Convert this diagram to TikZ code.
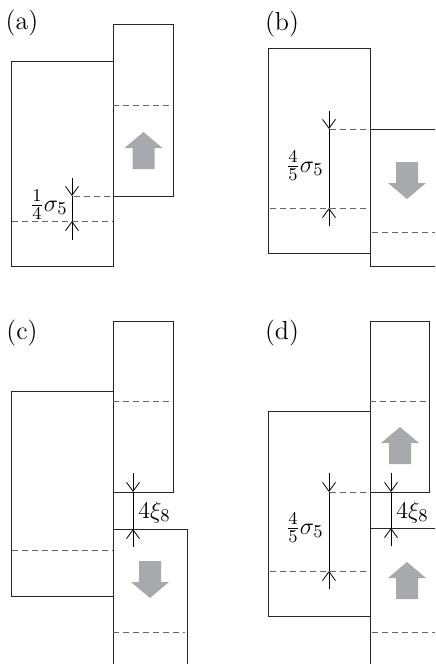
\documentclass[tikz,border=0pt]{standalone}
\usetikzlibrary{arrows.meta}
\definecolor{movegray}{RGB}{167,169,172}
\tikzset{
	box/.style={draw=black!85,line width=0.5pt},
	guide/.style={draw=black!60,line width=0.5pt,dash pattern=on 3pt off 2pt},
	dim/.style={draw=black,line width=0.4pt,-{Straight Barb[length=4.5pt,width=6.5pt]}},
	panel/.style={font=\fontsize{13}{15}\selectfont},
	dimlabel/.style={font=\fontsize{12.5}{15}\selectfont,inner sep=1pt}
}
\begin{document}
\begin{tikzpicture}[x=0.5pt,y=-0.5pt]
			\newcommand{\moveup}[1]{
				\fill[movegray,shift={(#1)}] (0,0) -- (19,16) -- (11,16) -- (11,37) -- (-11,37) -- (-11,16) -- (-19,16) -- cycle;
			}\newcommand{\movedown}[1]{
				\fill[movegray,shift={(#1)}] (0,0) -- (19,-16) -- (11,-16) -- (11,-37) -- (-11,-37) -- (-11,-16) -- (-19,-16) -- cycle;
			}%Frame
			\clip (0,0) rectangle (435,664);
			%Panel labels
			\node [panel] (la) at (22,23) {(a)};
			\node [panel] (lb) at (282,24) {(b)};
			\node [panel] (lc) at (22,333) {(c)};
			\node [panel] (ld) at (282,333) {(d)};
			% (a)
			\draw [box] (11,61) rectangle (113,266);
			\draw [box] (113,24) rectangle (173,196);
			\draw [guide] (113,105) -- (173,105);
			\draw [guide] (74,196) -- (113,196);
			\draw [guide] (12,221) -- (113,221);
			\coordinate (a1) at (72,178);
			\coordinate (a2) at (72,196);
			\coordinate (a3) at (72,221);
			\coordinate (a4) at (72,240);
			\draw [dim] (a1) -- (a2);
			\draw [dim] (a4) -- (a3);
			\draw [line width=0.4pt] (a2) -- (a3);
			\node [dimlabel,anchor=east] (sa) at (70,205) {$\frac{1}{4}\sigma_5$};
			\moveup{143.5,132}
			% (b)
			\draw [box] (268,48) rectangle (370,253);
			\draw [box] (440,129) -- (370,129) -- (370,266) -- (440,266);
			\draw [guide] (330,129) -- (370,129);
			\draw [guide] (270,208) -- (370,208);
			\draw [guide] (372,232) -- (435,232);
			\coordinate (b1) at (329,111);
			\coordinate (b2) at (329,129);
			\coordinate (b3) at (329,208);
			\coordinate (b4) at (329,226);
			\draw [dim] (b1) -- (b2);
			\draw [dim] (b4) -- (b3);
			\draw [line width=0.4pt] (b2) -- (b3);
			\node [dimlabel,anchor=east] (sb) at (326,166) {$\frac{4}{5}\sigma_5$};
			\movedown{407,199}
			% (c)
			\draw [box] (11,391) rectangle (113,596);
			\draw [box] (113,321) rectangle (173,492);
			\draw [box] (113,700) -- (113,529) -- (187,529) -- (187,700);
			\draw [guide] (113,401) -- (173,401);
			\draw [guide] (12,550) -- (113,550);
			\draw [guide] (113,632) -- (185,632);
			\coordinate (c1) at (133,473);
			\coordinate (c2) at (133,492);
			\coordinate (c3) at (133,529);
			\coordinate (c4) at (133,547);
			\draw [dim] (c1) -- (c2);
			\draw [dim] (c4) -- (c3);
			\draw [line width=0.4pt] (c2) -- (c3);
			\node [dimlabel,anchor=west] (xc) at (136,512) {$4\xi_8$};
			\movedown{150,598}
			% (d)
			\draw [box] (268,411) rectangle (370,616);
			\draw [box] (370,321) rectangle (429,492);
			\draw [box] (370,700) -- (370,528) -- (440,528);
			\draw [guide] (370,401) -- (429,401);
			\draw [guide] (330,492) -- (370,492);
			\draw [guide] (270,571) -- (370,571);
			\draw [guide] (372,632) -- (435,632);
			\coordinate (d1) at (329,473);
			\coordinate (d2) at (329,492);
			\coordinate (d3) at (329,571);
			\coordinate (d4) at (329,589);
			\draw [dim] (d1) -- (d2);
			\draw [dim] (d4) -- (d3);
			\draw [line width=0.4pt] (d2) -- (d3);
			\node [dimlabel,anchor=east] (sd) at (326,528) {$\frac{4}{5}\sigma_5$};
			\coordinate (e1) at (391,473);
			\coordinate (e2) at (391,492);
			\coordinate (e3) at (391,528);
			\coordinate (e4) at (391,546);
			\draw [dim] (e1) -- (e2);
			\draw [dim] (e4) -- (e3);
			\draw [line width=0.4pt] (e2) -- (e3);
			\node [dimlabel,anchor=west] (xd) at (394,512) {$4\xi_8$};
			\moveup{400,427}
			\moveup{407,562}
\end{tikzpicture}
\end{document}
